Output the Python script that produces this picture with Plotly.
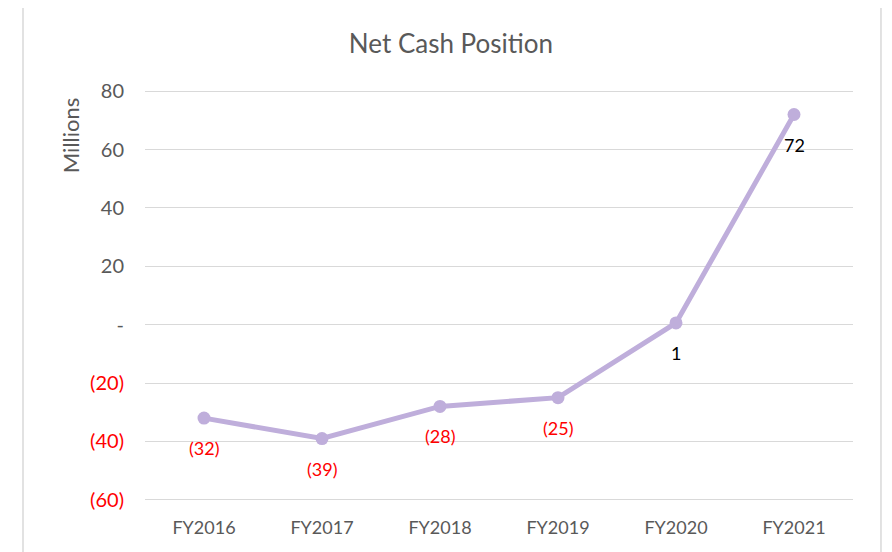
import plotly.graph_objects as go

categories = ["FY2016", "FY2017", "FY2018", "FY2019", "FY2020", "FY2021"]
net_cash = [-32, -39, -28, -25, 0.6, 72]
label_text = ["(32)", "(39)", "(28)", "(25)", "1", "72"]
tick_vals = [-60, -40, -20, 0, 20, 40, 60, 80]
tick_text = ["(60)", "(40)", "(20)", "-", "20", "40", "60", "80"]

FONT = "Lato, 'Open Sans', sans-serif"
GRAY = "#595959"
RED = "#FF0000"

def color_tick(v, t):
    return f"<span style='color:{RED}'>{t}</span>" if v < 0 else t

fig = go.Figure()
fig.add_trace(go.Scatter(
    x=categories, y=net_cash, mode="lines+markers",
    line=dict(color="#BFAEDB", width=5),
    marker=dict(color="#BFAEDB", size=13),
    hoverinfo="skip", showlegend=False,
))

for c, v, t in zip(categories, net_cash, label_text):
    fig.add_annotation(
        x=c, y=v, text=t, showarrow=False, yshift=-30,
        font=dict(family=FONT, size=18, color=RED if v < 0 else "#000000"),
    )

fig.add_annotation(
    xref="paper", yref="paper", x=-0.106, y=0.89, text="Millions",
    textangle=-90, showarrow=False, xanchor="center", yanchor="middle",
    font=dict(family=FONT, size=22, color=GRAY),
)

fig.add_shape(
    type="rect", xref="paper", yref="paper",
    x0=-0.1723, x1=1.0395, y0=-0.15, y1=1.2044,
    line=dict(color="#D9D9D9", width=1.5), fillcolor="rgba(0,0,0,0)", layer="below",
)

fig.update_layout(
    width=892, height=552,
    margin=dict(l=137, r=47, t=82, b=59),
    paper_bgcolor="white", plot_bgcolor="white",
    title=dict(text="Net Cash Position", x=0.4966, xanchor="center", y=0.935, yanchor="middle",
               xref="container",
               font=dict(family=FONT, size=26, color=GRAY)),
    font=dict(family=FONT, size=16, color=GRAY),
    xaxis=dict(
        type="category", range=[-0.5, 5.5], showgrid=False, showline=False,
        zeroline=False, ticks="", tickfont=dict(size=18, color=GRAY), ticklabelstandoff=14,
    ),
    yaxis=dict(
        range=[-60.4, 80.4], tickvals=tick_vals,
        ticktext=[color_tick(v, t) for v, t in zip(tick_vals, tick_text)],
        showgrid=True, gridcolor="#D9D9D9", gridwidth=1, zeroline=False,
        showline=False, ticks="", tickfont=dict(size=20, color=GRAY), ticklabelstandoff=20,
    ),
)

fig.write_html("out.html")
